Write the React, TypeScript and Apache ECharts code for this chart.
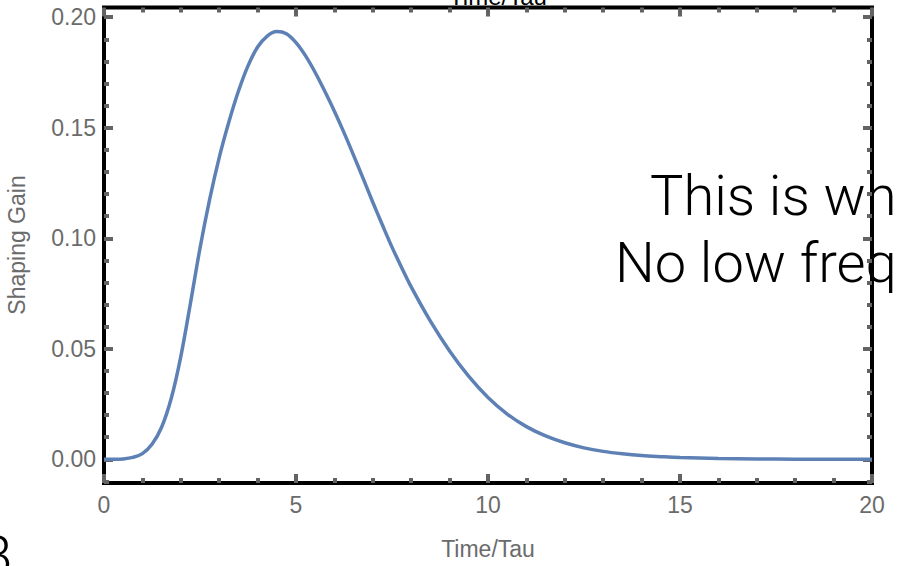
import React, { useEffect, useRef } from "react";
import * as echarts from "echarts";

// Time/Tau values (x) and Shaping Gain values (y)
const timeValues = [
  0, 0.25, 0.5, 0.75, 1, 1.25, 1.5, 1.75, 2, 2.25, 2.5, 2.75, 3, 3.25, 3.5, 3.75,
  4, 4.25, 4.5, 4.75, 5, 5.25, 5.5, 5.75, 6, 6.25, 6.5, 6.75, 7, 7.25, 7.5, 7.75,
  8, 8.5, 9, 9.5, 10, 10.5, 11, 11.5, 12, 12.5, 13, 13.5, 14, 14.5, 15, 16, 17,
  18, 19, 20,
];
const gainValues = [
  0, 0.00002, 0.0002, 0.0009, 0.0026, 0.0068, 0.0145, 0.0275, 0.0465, 0.0705,
  0.0955, 0.1175, 0.1365, 0.1525, 0.1665, 0.178, 0.1865, 0.1915, 0.1935, 0.1925,
  0.1885, 0.1825, 0.175, 0.1665, 0.1575, 0.1478, 0.1375, 0.127, 0.1163, 0.106,
  0.096, 0.0868, 0.078, 0.0625, 0.049, 0.0375, 0.028, 0.0205, 0.0148, 0.0106,
  0.0075, 0.0052, 0.0036, 0.0025, 0.0017, 0.0012, 0.0008, 0.0004, 0.0002, 0.0001,
  0.00005, 0.00002,
];

const xMajorTicks = [0, 5, 10, 15, 20];
const xMinorTicks = [1, 2, 3, 4, 6, 7, 8, 9, 11, 12, 13, 14, 16, 17, 18, 19];
const yMajorTicks = [0, 0.05, 0.1, 0.15, 0.2];
const yMinorTicks = [
  -0.01, 0.01, 0.02, 0.03, 0.04, 0.06, 0.07, 0.08, 0.09, 0.11, 0.12, 0.13, 0.14,
  0.16, 0.17, 0.18, 0.19,
];

const xTitle = "Time/Tau";
const yTitle = "Shaping Gain";
const overlayLine1 = "This is wh";
const overlayLine2 = "No low freq";
const cornerLetter = "B";

const X_MIN = 0;
const X_MAX = 20;
const Y_MIN = -0.0107;
const Y_MAX = 0.2044;

const TICK_COLOR = "#636363";
const LABEL_COLOR = "#6b6b6b";
const FONT = "Liberation Sans, Arial, Helvetica, sans-serif";
const THIN_FONT = "Roboto, Lato, sans-serif";

function makeXAxis(position: "top" | "bottom", ticks: number[], len: number, labels: boolean) {
  return {
    type: "value",
    position,
    min: X_MIN,
    max: X_MAX,
    axisLine: { show: false, onZero: false },
    splitLine: { show: false },
    axisTick: {
      show: true,
      inside: true,
      length: len,
      customValues: ticks,
      lineStyle: { color: TICK_COLOR, width: 4 },
    },
    axisLabel: labels
      ? {
          show: true,
          customValues: ticks,
          margin: 10,
          color: LABEL_COLOR,
          fontSize: 23,
          fontFamily: FONT,
          formatter: (v: number) => String(v),
        }
      : { show: false },
  };
}

function makeYAxis(position: "left" | "right", ticks: number[], len: number, labels: boolean) {
  return {
    type: "value",
    position,
    min: Y_MIN,
    max: Y_MAX,
    axisLine: { show: false, onZero: false },
    splitLine: { show: false },
    axisTick: {
      show: true,
      inside: true,
      length: len,
      customValues: ticks,
      lineStyle: { color: TICK_COLOR, width: 4 },
    },
    axisLabel: labels
      ? {
          show: true,
          customValues: ticks,
          margin: 8,
          color: LABEL_COLOR,
          fontSize: 23,
          fontFamily: FONT,
          formatter: (v: number) => v.toFixed(2),
        }
      : { show: false },
  };
}

export default function App() {
  const ref = useRef<HTMLDivElement>(null);

  useEffect(() => {
    if (!ref.current) return;
    const chart = echarts.init(ref.current, undefined, { renderer: "svg" });
    const data = timeValues.map((t, i) => [t, gainValues[i]]);
    chart.setOption({
      animation: false,
      backgroundColor: "#ffffff",
      grid: {
        left: 104,
        top: 7.5,
        width: 768,
        height: 475.5,
        show: true,
        borderColor: "#000000",
        borderWidth: 4,
        backgroundColor: "transparent",
        containLabel: false,
        outerBoundsMode: "none",
      },
      xAxis: [
        makeXAxis("bottom", xMajorTicks, 9, true),
        makeXAxis("bottom", xMinorTicks, 5, false),
        makeXAxis("top", xMajorTicks, 9, false),
        makeXAxis("top", xMinorTicks, 5, false),
      ],
      yAxis: [
        makeYAxis("left", yMajorTicks, 9, true),
        makeYAxis("left", yMinorTicks, 5, false),
        makeYAxis("right", yMajorTicks, 9, false),
        makeYAxis("right", yMinorTicks, 5, false),
      ],
      series: [
        {
          type: "line",
          xAxisIndex: 0,
          yAxisIndex: 0,
          data,
          smooth: 0.35,
          showSymbol: false,
          symbol: "none",
          clip: true,
          lineStyle: { color: "#5e81b5", width: 3.5 },
          z: 3,
        },
      ],
      graphic: [
        {
          type: "text",
          z: -10,
          x: 488,
          y: 549,
          style: {
            text: xTitle,
            fill: LABEL_COLOR,
            font: `23px ${FONT}`,
            align: "center",
            verticalAlign: "middle",
          },
        },
        {
          type: "text",
          z: -10,
          x: 17,
          y: 245,
          rotation: Math.PI / 2,
          style: {
            text: yTitle,
            fill: LABEL_COLOR,
            font: `23px ${FONT}`,
            align: "center",
            verticalAlign: "middle",
          },
        },
        {
          type: "text",
          z: -10,
          x: 498,
          y: -3.5,
          style: {
            text: xTitle,
            fill: "#000000",
            font: `24px ${FONT}`,
            align: "center",
            verticalAlign: "middle",
          },
        },
        {
          type: "text",
          z: -10,
          x: 650,
          y: 196,
          style: {
            text: overlayLine1,
            fill: "#000000",
            font: `300 56px ${THIN_FONT}`,
            align: "left",
            verticalAlign: "middle",
          },
        },
        {
          type: "text",
          z: -10,
          x: 615,
          y: 262.5,
          style: {
            text: overlayLine2,
            fill: "#000000",
            font: `300 56px ${THIN_FONT}`,
            align: "left",
            verticalAlign: "middle",
          },
        },
        {
          type: "text",
          z: -10,
          x: -22,
          y: 556,
          style: {
            text: cornerLetter,
            fill: "#000000",
            font: `300 56px ${THIN_FONT}`,
            align: "left",
            verticalAlign: "middle",
          },
        },
      ],
    });
    return () => chart.dispose();
  }, []);

  return (
    <div
      ref={ref}
      style={{ position: "absolute", left: 0, top: 0, width: 898, height: 566, overflow: "hidden" }}
    />
  );
}
